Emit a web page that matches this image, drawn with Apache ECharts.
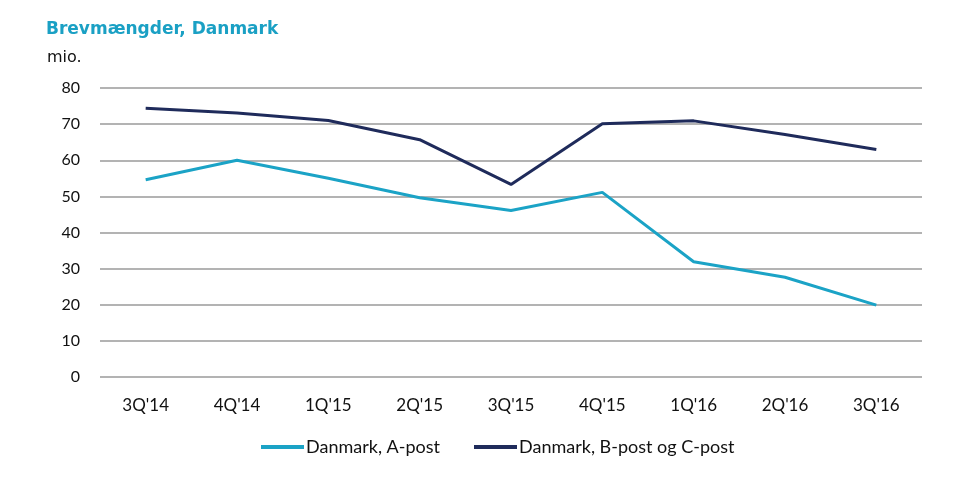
<!DOCTYPE html>
<html><head><meta charset="utf-8">
<script src="https://cdn.jsdelivr.net/npm/echarts@6/dist/echarts.min.js"></script>
<style>html,body{margin:0;padding:0;background:#fff}#c{width:960px;height:499px}</style>
</head><body><div id="c"></div>
<script>
const categories = ["3Q'14","4Q'14","1Q'15","2Q'15","3Q'15","4Q'15","1Q'16","2Q'16","3Q'16"];
const aPost = [54.6, 60.0, 55.0, 49.6, 46.1, 51.1, 31.9, 27.6, 19.9];
const bcPost = [74.4, 73.1, 71.0, 65.7, 53.3, 70.1, 70.9, 67.1, 63.0];
const yTicks = [0, 10, 20, 30, 40, 50, 60, 70, 80];

const chart = echarts.init(document.getElementById('c'));
chart.setOption({
  animation: false,
  title: [
    {text: 'Brevmængder, Danmark', left: 41, top: 16, textStyle: {fontFamily: 'DejaVu Sans', fontWeight: 'bold', fontSize: 17, color: '#1aa0c4'}},
    {text: 'mio.', left: 42, top: 45, textStyle: {fontFamily: 'DejaVu Sans', fontWeight: 'normal', fontSize: 16, color: '#111'}}
  ],
  grid: {left: 100, right: 38, top: 88, bottom: 122},
  legend: {
    bottom: 38, left: 256, itemWidth: 43, itemHeight: 4, itemGap: 34,
    icon: 'rect',
    textStyle: {fontFamily: 'Lato', fontSize: 18, color: '#111', padding: [0,0,0,-3]},
    data: ['Danmark, A-post', 'Danmark, B-post og C-post']
  },
  xAxis: {
    type: 'category', data: categories, boundaryGap: true,
    axisLine: {show: false}, axisTick: {show: false},
    axisLabel: {fontFamily: 'Lato', fontSize: 17, color: '#111', margin: 20}
  },
  yAxis: {
    type: 'value', min: 0, max: 80, interval: 10,
    axisLine: {show: false}, axisTick: {show: false},
    axisLabel: {fontFamily: 'Lato', fontSize: 16, color: '#111', margin: 20,
      customValues: yTicks},
    splitLine: {lineStyle: {color: '#b3b3b3', width: 2}}
  },
  series: [
    {name: 'Danmark, A-post', type: 'line', data: aPost, symbol: 'none',
     lineStyle: {color: '#1ba3c6', width: 3}, itemStyle: {color: '#1ba3c6'}},
    {name: 'Danmark, B-post og C-post', type: 'line', data: bcPost, symbol: 'none',
     lineStyle: {color: '#1f2b5b', width: 3}, itemStyle: {color: '#1f2b5b'}}
  ]
});
</script></body></html>
